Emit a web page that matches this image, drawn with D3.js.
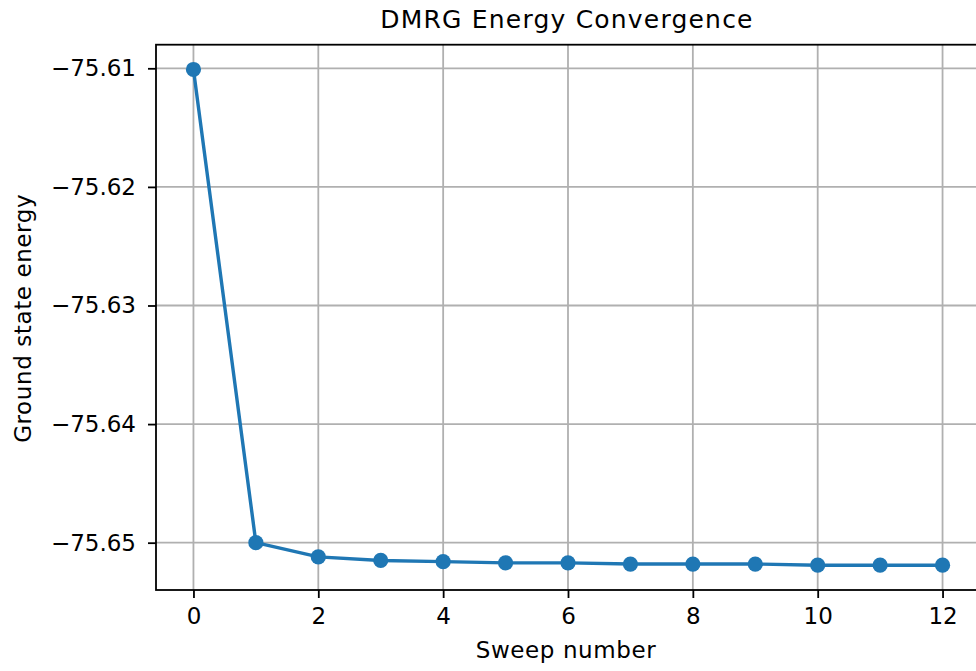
<!DOCTYPE html>
<html>
<head>
<meta charset="utf-8">
<script src="https://cdn.jsdelivr.net/npm/d3@7"></script>
<style>
html,body{margin:0;padding:0;background:#fff;overflow:hidden;}
svg{display:block;}
text{font-family:"DejaVu Sans",sans-serif;fill:#000;}
</style>
</head>
<body>
<svg id="chart" width="976" height="671"></svg>
<script>
const sweeps = [0,1,2,3,4,5,6,7,8,9,10,11,12];
const energies = [-75.6101,-75.6500,-75.6512,-75.6515,-75.6516,-75.6517,-75.6517,-75.6518,-75.6518,-75.6518,-75.6519,-75.6519,-75.6519];
const xTicks = [0,2,4,6,8,10,12];
const yTicks = [-75.61,-75.62,-75.63,-75.64,-75.65];
const title = "DMRG Energy Convergence";
const xLabel = "Sweep number";
const yLabel = "Ground state energy";

const svg = d3.select("#chart");
const L = 156, R = 980, T = 44.7, B = 590;

const xmin = d3.min(sweeps), xmax = d3.max(sweeps);
const xr = xmax - xmin;
const x = d3.scaleLinear().domain([xmin - 0.05*xr, xmax + 0.05*xr]).range([L, R]);
const ymin = d3.min(energies), ymax = d3.max(energies);
const yr = ymax - ymin;
const y = d3.scaleLinear().domain([ymin - 0.05*yr, ymax + 0.05*yr]).range([B, T]);

const fmtY = v => d3.format(".2f")(v).replace("-", "\u2212");

// grid
const g = svg.append("g");
g.selectAll(".gx").data(xTicks).enter().append("line")
  .attr("x1", d => x(d)).attr("x2", d => x(d)).attr("y1", T).attr("y2", B)
  .attr("stroke", "#b0b0b0").attr("stroke-width", 1.8);
g.selectAll(".gy").data(yTicks).enter().append("line")
  .attr("x1", L).attr("x2", R).attr("y1", d => y(d)).attr("y2", d => y(d))
  .attr("stroke", "#b0b0b0").attr("stroke-width", 1.8);

// line
const line = d3.line().x((d, i) => x(sweeps[i])).y(d => y(d));
svg.append("path").datum(energies).attr("d", line)
  .attr("fill", "none").attr("stroke", "#1f77b4").attr("stroke-width", 3.4)
  .attr("stroke-linejoin", "round");
svg.selectAll(".pt").data(energies).enter().append("circle")
  .attr("cx", (d, i) => x(sweeps[i])).attr("cy", d => y(d)).attr("r", 7.6)
  .attr("fill", "#1f77b4");

// spines
svg.append("rect").attr("x", L).attr("y", T).attr("width", R - L).attr("height", B - T)
  .attr("fill", "none").attr("stroke", "#000").attr("stroke-width", 1.8);

// x axis
const xa = d3.axisBottom(x).tickValues(xTicks).tickSize(8).tickPadding(10).tickFormat(d3.format("d"));
const gx = svg.append("g").attr("transform", `translate(0,${B})`).call(xa);
gx.select(".domain").remove();
gx.selectAll("line").attr("stroke", "#000").attr("stroke-width", 1.8);
gx.selectAll("text").attr("font-size", 23).style("font-family", "DejaVu Sans");

const ya = d3.axisLeft(y).tickValues(yTicks).tickSize(8).tickPadding(12).tickFormat(fmtY);
const gy = svg.append("g").attr("transform", `translate(${L},0)`).call(ya);
gy.select(".domain").remove();
gy.selectAll("line").attr("stroke", "#000").attr("stroke-width", 1.8);
gy.selectAll("text").attr("font-size", 23).style("font-family", "DejaVu Sans");

svg.append("text").attr("x", (L + R) / 2 - 1).attr("y", 28).attr("text-anchor", "middle")
  .attr("font-size", 25).attr("letter-spacing", 1.2).text(title);
svg.append("text").attr("x", (L + R) / 2 - 2).attr("y", 658).attr("text-anchor", "middle")
  .attr("font-size", 23).attr("letter-spacing", 0.6).text(xLabel);
svg.append("text").attr("transform", `translate(31,${(T + B) / 2 + 1}) rotate(-90)`).attr("text-anchor", "middle")
  .attr("font-size", 23).attr("letter-spacing", 0.6).text(yLabel);
</script>
</body>
</html>
